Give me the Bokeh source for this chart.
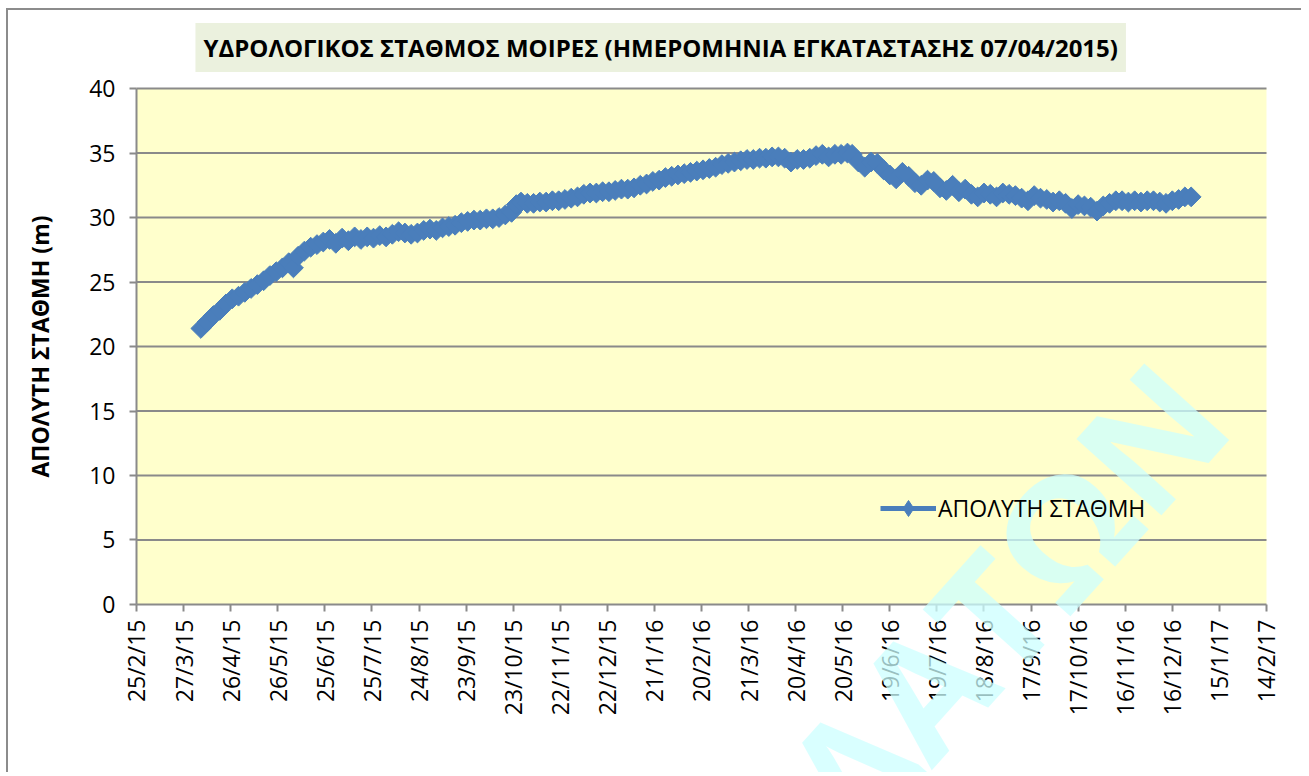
import numpy as np
from bokeh.plotting import figure
from bokeh.models import (Range1d, FixedTicker, Legend, LegendItem, Label, ColumnDataSource,
                          BoxAnnotation)
from bokeh.embed import file_html
from bokeh.resources import INLINE

# ---- data (days counted from 25/2/2015, level in m) ----
days = [41, 45, 49, 53, 57, 61, 65, 69, 73, 77, 81, 85, 89, 93, 97, 100, 103, 107, 111, 115,
        119, 123, 127, 131, 135, 139, 143, 147, 151, 155, 159, 163, 167, 171, 175, 179, 183, 187,
        191, 195, 199, 203, 207, 211, 215, 219, 223, 227, 231, 235, 239, 242, 245, 249, 253, 257,
        261, 265, 269, 273, 277, 281, 285, 289, 293, 297, 301, 305, 309, 313, 317, 321, 325, 329,
        333, 337, 341, 345, 349, 353, 357, 361, 365, 369, 373, 377, 381, 385, 389, 393, 397, 401,
        405, 409, 413, 417, 421, 425, 429, 433, 437, 441, 445, 449, 453, 456, 460, 464, 468, 472,
        476, 480, 484, 488, 492, 496, 500, 504, 508, 512, 516, 520, 524, 528, 532, 536, 540, 544,
        548, 552, 556, 560, 564, 568, 572, 576, 580, 584, 588, 592, 596, 600, 604, 608, 612, 616,
        620, 624, 628, 632, 636, 640, 644, 648, 652, 656, 660, 664, 668, 672]
level = [21.4, 21.9, 22.4, 22.8, 23.3, 23.7, 23.9, 24.2, 24.5, 24.8, 25.1, 25.5, 25.8, 26.1, 26.5,
         26.1, 27.0, 27.4, 27.7, 27.9, 28.1, 28.3, 28.0, 28.4, 28.2, 28.5, 28.3, 28.5, 28.4, 28.6,
         28.5, 28.7, 28.9, 28.8, 28.7, 28.8, 29.0, 29.1, 29.0, 29.2, 29.3, 29.4, 29.6, 29.7, 29.8,
         29.8, 29.9, 29.9, 30.0, 30.2, 30.4, 31.0, 31.2, 31.1, 31.1, 31.2, 31.2, 31.3, 31.3, 31.4,
         31.5, 31.6, 31.8, 31.9, 31.9, 32.0, 32.0, 32.1, 32.2, 32.2, 32.3, 32.5, 32.6, 32.8, 32.9,
         33.1, 33.2, 33.3, 33.4, 33.5, 33.6, 33.7, 33.8, 33.9, 34.1, 34.2, 34.3, 34.4, 34.5, 34.5,
         34.6, 34.6, 34.7, 34.7, 34.6, 34.3, 34.5, 34.5, 34.6, 34.8, 34.9, 34.7, 34.9, 34.9, 35.0,
         34.9, 34.3, 33.9, 34.3, 34.2, 33.7, 33.3, 33.0, 33.5, 33.2, 32.7, 32.5, 32.9, 32.8, 32.3,
         32.1, 32.5, 32.0, 32.2, 31.8, 31.6, 31.9, 31.8, 31.6, 31.9, 31.8, 31.7, 31.5, 31.3, 31.7,
         31.5, 31.4, 31.2, 31.3, 31.1, 30.7, 31.0, 30.9, 30.8, 30.5, 30.9, 31.1, 31.3, 31.3, 31.2,
         31.3, 31.2, 31.3, 31.3, 31.2, 31.1, 31.3, 31.4, 31.6, 31.6]

x_start, x_end = 0, 720
y_start, y_end = 0, 40
tick_days = list(range(0, 721, 30))
tick_labels = ["25/2/15", "27/3/15", "26/4/15", "26/5/15", "25/6/15", "25/7/15", "24/8/15",
               "23/9/15", "23/10/15", "22/11/15", "22/12/15", "21/1/16", "20/2/16", "21/3/16",
               "20/4/16", "20/5/16", "19/6/16", "19/7/16", "18/8/16", "17/9/16", "17/10/16",
               "16/11/16", "16/12/16", "15/1/17", "14/2/17"]
y_ticks = [0, 5, 10, 15, 20, 25, 30, 35, 40]

title_text = "ΥΔΡΟΛΟΓΙΚΟΣ ΣΤΑΘΜΟΣ ΜΟΙΡΕΣ (ΗΜΕΡΟΜΗΝΙΑ ΕΓΚΑΤΑΣΤΑΣΗΣ 07/04/2015)"
y_title = "ΑΠΟΛΥΤΗ ΣΤΑΘΜΗ (m)"
series_name = "ΑΠΟΛΥΤΗ ΣΤΑΘΜΗ"
watermark = "ΥΔΑΤΩΝ"

FONT = "Open Sans"
BLUE = "#4A7EBB"
GRAY = "#8A8A8A"

# The frame covers the whole canvas, so title, legend and the watermark (which runs across
# the date labels) are never clipped; both axes are pinned at 0 and the plot area is the
# 0..720 x 0..40 box.
VIEW_X = (-81.56, 743.58)
VIEW_Y = (-13.18, 46.05)

p = figure(width=1295, height=764, x_range=Range1d(*VIEW_X), y_range=Range1d(*VIEW_Y),
           output_backend="svg", toolbar_location=None, title=None,
           min_border_left=0, min_border_right=0, min_border_top=0, min_border_bottom=0)
p.background_fill_color = "white"
p.border_fill_color = "white"
p.outline_line_color = None
p.styles = {"margin-top": "8px", "margin-left": "6px",
            "border-top": "2px solid #8c8c8c", "border-left": "2px solid #8c8c8c"}

# plot area
p.add_layout(BoxAnnotation(left=x_start, right=x_end, bottom=y_start, top=y_end,
                           fill_color="#FFFFCC", fill_alpha=1, line_color=None, level="image"))

# horizontal grid lines, limited to the plot area
p.xgrid.visible = False
p.ygrid.visible = False
grid_y = y_ticks[1:]
p.segment(x0=[x_start] * len(grid_y), x1=[x_end] * len(grid_y), y0=grid_y, y1=grid_y,
          line_color=GRAY, line_width=2, level="underlay")

p.xaxis.ticker = FixedTicker(ticks=tick_days)
p.xaxis.major_label_overrides = {d: lab for d, lab in zip(tick_days, tick_labels)}
p.xaxis.major_label_orientation = np.pi / 2
p.xaxis.fixed_location = y_start
p.xaxis.bounds = (x_start, x_end)
p.yaxis.ticker = FixedTicker(ticks=y_ticks)
p.yaxis.fixed_location = x_start
p.yaxis.bounds = (y_start, y_end)
p.yaxis.axis_label = y_title
p.yaxis.axis_label_text_font = FONT
p.yaxis.axis_label_text_font_style = "bold"
p.yaxis.axis_label_text_font_size = "23px"
p.yaxis.axis_label_text_color = "black"

for ax in (p.xaxis, p.yaxis):
    ax.axis_line_color = GRAY
    ax.axis_line_width = 2
    ax.major_tick_line_color = GRAY
    ax.major_tick_line_width = 2
    ax.major_tick_out = 7
    ax.major_tick_in = 0
    ax.minor_tick_line_color = None
    ax.major_label_text_font = FONT
    ax.major_label_text_font_size = "23px"
    ax.major_label_text_color = "black"
p.yaxis.major_label_standoff = 14
p.yaxis.axis_label_standoff = 30
p.xaxis.major_label_standoff = 8

src = ColumnDataSource(dict(day=days, level=level))
ln = p.line("day", "level", source=src, line_color=BLUE, line_width=5)
mk = p.scatter("day", "level", source=src, marker="square", size=14, angle=np.pi / 4,
               fill_color=BLUE, line_color=BLUE)
# hidden renderer that only supplies the diamond of the legend swatch
swatch = p.scatter("day", "level", source=src, marker="diamond", fill_color=BLUE,
                   line_color=BLUE, visible=False)

legend = Legend(items=[LegendItem(label=series_name, renderers=[ln, swatch])],
                location=(872, 246), orientation="horizontal",
                border_line_color=None, background_fill_alpha=0,
                label_text_font=FONT, label_text_font_size="23px", label_text_color="black",
                glyph_width=56, glyph_height=40, label_standoff=2, padding=0, margin=0, spacing=0)
p.add_layout(legend)

title = Label(x=334, y=43.18, text=title_text, text_align="center", text_baseline="middle",
              text_font=FONT, text_font_style="bold", text_font_size="24px", text_color="black",
              background_fill_color="#EBF1DE", padding=8)
p.add_layout(title)

wm = Label(x=673, y=16.8, text=watermark, angle=48 * np.pi / 180, text_align="right",
           text_baseline="alphabetic", text_font=FONT, text_font_style="bold",
           text_font_size="160px", text_color="#CCFFFF", text_alpha=0.75, level="overlay")
p.add_layout(wm)

open("out.html", "w").write(file_html(p, INLINE))
